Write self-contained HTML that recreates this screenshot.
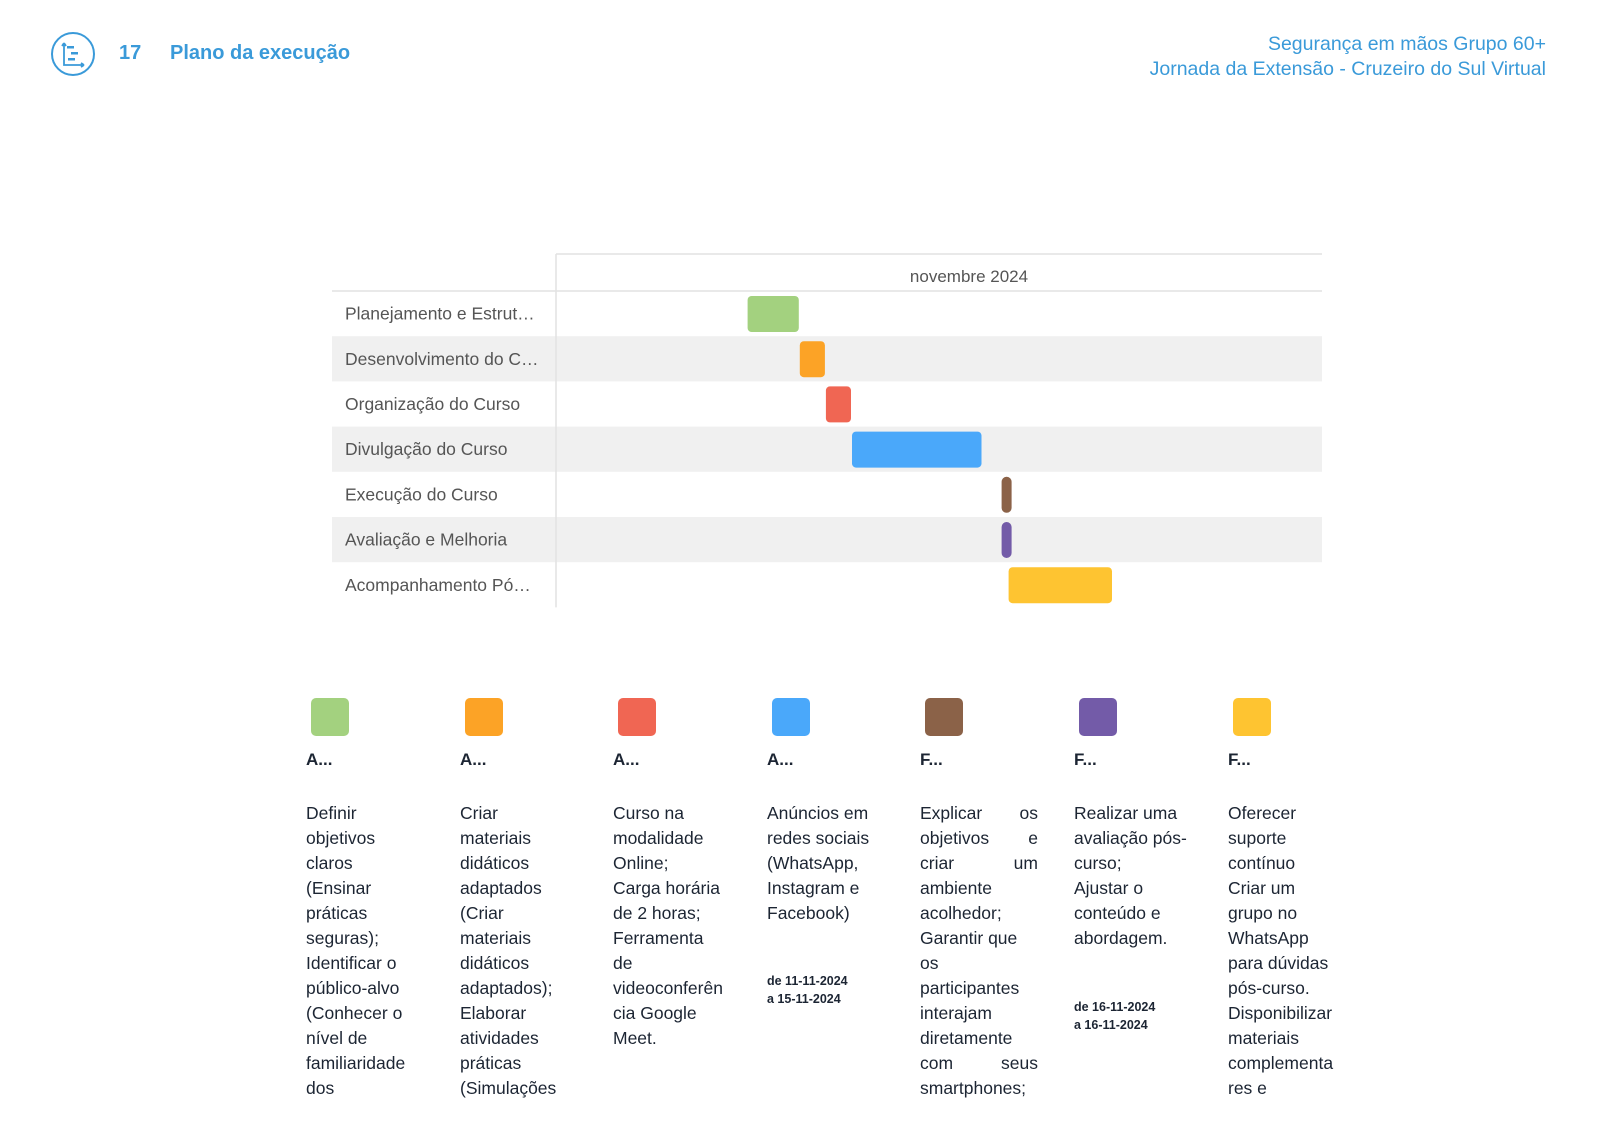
<!DOCTYPE html>
<html><head><meta charset="utf-8">
<style>
body{margin:0;width:1600px;height:1131px;background:#fff;font-family:"Liberation Sans",sans-serif;position:relative;overflow:hidden}
.abs{position:absolute}
.hdr{color:#3a9ad9}
.col{position:absolute;width:118px;color:#1c2533}
.sw{width:38px;height:38px;border-radius:5px;position:absolute;top:0;left:5px}
.tt{position:absolute;top:52px;left:0;font-weight:bold;font-size:17px}
.tx{position:absolute;top:103px;left:0;width:118px;font-size:17.5px;line-height:25px}
.tx div{white-space:nowrap}
.tx div.j{text-align:justify;text-align-last:justify;white-space:normal}
.dt{position:absolute;left:0;font-size:12.5px;font-weight:bold;line-height:18px}
</style></head><body>
<svg class="abs" style="left:50px;top:31px" width="48" height="48">
<circle cx="23" cy="23" r="21" fill="none" stroke="#3a9ad9" stroke-width="2"/>
<path d="M14 12 V34 H34 M14 12 l-2 3 M14 12 l2 3 M34 34 l-3 -2 M34 34 l-3 2" fill="none" stroke="#3a9ad9" stroke-width="1.8"/>
<rect x="17" y="15" width="7" height="2.5" fill="#3a9ad9"/><rect x="21" y="21" width="7" height="2.5" fill="#3a9ad9"/><rect x="18" y="27" width="7" height="2.5" fill="#3a9ad9"/>
</svg>
<div class="abs hdr" style="left:119px;top:42px;font-size:20px;font-weight:bold">17</div>
<div class="abs hdr" style="left:170px;top:42px;font-size:20px;font-weight:bold">Plano da execução</div>
<div class="abs hdr" style="right:54px;top:32px;font-size:19.5px;text-align:right;line-height:25px">Segurança em mãos Grupo 60+<br>Jornada da Extensão - Cruzeiro do Sul Virtual</div>

<svg id="gantt" class="abs" style="left:0;top:0" width="1600" height="640"></svg>

<div id="legend"></div>

<script>
const categories=["Planejamento e Estrut…","Desenvolvimento do C…","Organização do Curso","Divulgação do Curso","Execução do Curso","Avaliação e Melhoria","Acompanhamento Pó…"];
const startDays=[7,9,10,11,16,16,17];
const endDays=[8,9,10,15,16,16,20];
const milestone=[false,false,false,false,true,true,false];
const colors=["#a3d17f","#fca326","#f06653","#4aa8fa","#8b6248","#735ba8","#fec431"];
const monthLabel="novembre 2024";
const NS="http://www.w3.org/2000/svg";
const svg=document.getElementById('gantt');
const L=332,V=556,R=1322,TOP=254,HL=291,RH=45.2;
const x=d=>591+(d-1)*26.1;
const y=i=>HL+i*RH;
function mk(t,a){const e=document.createElementNS(NS,t);for(const k in a)e.setAttribute(k,a[k]);svg.appendChild(e);return e;}
categories.forEach((c,i)=>{
 if(i%2===1){const r=mk('rect',{x:L,y:y(i),width:R-L,height:RH,fill:'#f0f0f0'});
 
 }
 const t=mk('text',{x:345,y:y(i)+RH/2+6,'font-size':17.5,fill:'#555'});t.textContent=c;
 
 
});
mk('line',{x1:V,y1:TOP,x2:R,y2:TOP,stroke:'#e2e2e2','stroke-width':1.5});
mk('line',{x1:L,y1:HL,x2:R,y2:HL,stroke:'#e2e2e2','stroke-width':1.5});
mk('line',{x1:V,y1:TOP,x2:V,y2:y(7),stroke:'#e2e2e2','stroke-width':1.5});
const ml=mk('text',{x:969,y:282,'font-size':17,fill:'#555','text-anchor':'middle'});ml.textContent=monthLabel;


categories.forEach((c,i)=>{
 let x0,w;
 if(milestone[i]){const cx=x(endDays[i]+1)-2;x0=cx-5;w=10;}
 else{x0=x(startDays[i]);w=x(endDays[i]+1)-x0-1;}
 const b=mk('rect',{x:x0,y:y(i)+5,width:w,height:36,rx:milestone[i]?5:4,fill:colors[i]});
 
 
});
</script>

<div class="col" style="left:306px;top:698px"><div class="sw" style="background:#a3d17f"></div><div class="tt">A...</div>
<div class="tx"><div>Definir</div><div>objetivos</div><div>claros</div><div>(Ensinar</div><div>práticas</div><div>seguras);</div><div>Identificar o</div><div>público-alvo</div><div>(Conhecer o</div><div>nível de</div><div>familiaridade</div><div>dos</div></div></div>

<div class="col" style="left:460px;top:698px"><div class="sw" style="background:#fca326"></div><div class="tt">A...</div>
<div class="tx"><div>Criar</div><div>materiais</div><div>didáticos</div><div>adaptados</div><div>(Criar</div><div>materiais</div><div>didáticos</div><div>adaptados);</div><div>Elaborar</div><div>atividades</div><div>práticas</div><div>(Simulações</div></div></div>

<div class="col" style="left:613px;top:698px"><div class="sw" style="background:#f06653"></div><div class="tt">A...</div>
<div class="tx"><div>Curso na</div><div>modalidade</div><div>Online;</div><div>Carga horária</div><div>de 2 horas;</div><div>Ferramenta</div><div>de</div><div>videoconferên</div><div>cia Google</div><div>Meet.</div></div></div>

<div class="col" style="left:767px;top:698px"><div class="sw" style="background:#4aa8fa"></div><div class="tt">A...</div>
<div class="tx"><div>Anúncios em</div><div>redes sociais</div><div>(WhatsApp,</div><div>Instagram e</div><div>Facebook)</div></div>
<div class="dt" style="top:274px">de 11-11-2024<br>a 15-11-2024</div></div>

<div class="col" style="left:920px;top:698px"><div class="sw" style="background:#8b6248"></div><div class="tt">F...</div>
<div class="tx"><div class="j">Explicar os</div><div class="j">objetivos e</div><div class="j">criar um</div><div>ambiente</div><div>acolhedor;</div><div>Garantir que</div><div>os</div><div>participantes</div><div>interajam</div><div>diretamente</div><div class="j">com seus</div><div>smartphones;</div></div></div>

<div class="col" style="left:1074px;top:698px"><div class="sw" style="background:#735ba8"></div><div class="tt">F...</div>
<div class="tx"><div>Realizar uma</div><div>avaliação pós-</div><div>curso;</div><div>Ajustar o</div><div>conteúdo e</div><div>abordagem.</div></div>
<div class="dt" style="top:300px">de 16-11-2024<br>a 16-11-2024</div></div>

<div class="col" style="left:1228px;top:698px"><div class="sw" style="background:#fec431"></div><div class="tt">F...</div>
<div class="tx"><div>Oferecer</div><div>suporte</div><div>contínuo</div><div>Criar um</div><div>grupo no</div><div>WhatsApp</div><div>para dúvidas</div><div>pós-curso.</div><div>Disponibilizar</div><div>materiais</div><div>complementa</div><div>res e</div></div></div>
</body></html>
